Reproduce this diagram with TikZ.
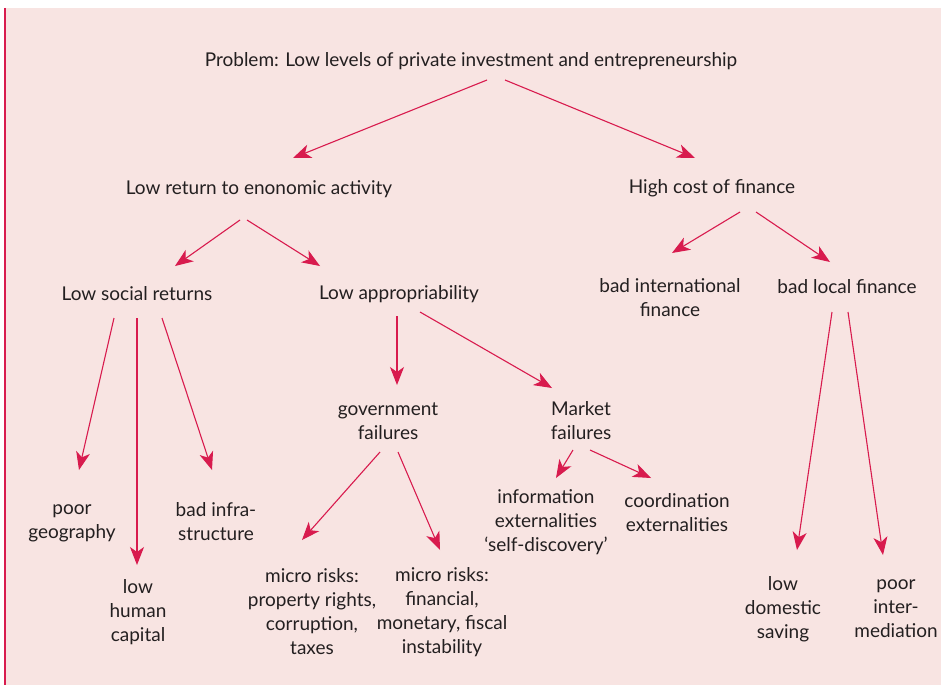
\documentclass[tikz,border=0pt]{standalone}
\usepackage{fontspec}
\setmainfont{Lato}
\usetikzlibrary{arrows.meta, calc}
\definecolor{bgpink}{HTML}{F8E4E2}
\definecolor{arrred}{HTML}{D81B4E}
\definecolor{txtgray}{HTML}{231F20}

\begin{document}
\begin{tikzpicture}[x=1pt, y=-1pt,
    lbl/.style={align=center, inner sep=0pt, text=txtgray, font=\fontsize{19}{24}\selectfont},
    arr/.style={-{Stealth[length=18pt, width=14pt, inset=5pt]}, color=arrred, line width=1.1pt}]
                % background and the rule on the left
                \useasboundingbox (0,0) rectangle (941,685);
                \fill[bgpink] (4,8) rectangle (941,685);
                \draw[arrred, line width=2.2pt] (5,8) -- (5,685);

                % top levels
                \node[lbl] (problem) at (471,61) {Problem: Low levels of private investment and entrepreneurship};
                \node[lbl] (lowret) at (259,189) {Low return to enonomic activity};
                \node[lbl] (highcost) at (712,188) {High cost of finance};

                % second row
                \node[lbl] (social) at (137,294) {Low social returns};
                \node[lbl] (approp) at (399,294) {Low appropriability};
                \node[lbl] (intl) at (670,298) {bad international\\finance};
                \node[lbl] (local) at (847,287) {bad local finance};

                % failures
                \node[lbl] (gov) at (388,421) {government\\failures};
                \node[lbl] (market) at (581,421) {Market\\failures};

                % bottom row
                \node[lbl] (geo) at (72,523) {poor\\geography};
                \node[lbl] (human) at (138,612) {low\\human\\capital};
                \node[lbl] (infra) at (216,522) {bad infra-\\structure};
                \node[lbl] (prop) at (312,612) {micro risks:\\property rights,\\corruption,\\taxes};
                \node[lbl] (fin) at (442,612) {micro risks:\\financial,\\monetary, fiscal\\instability};
                \node[lbl] (info) at (546,522) {information\\externalities\\‘self-discovery’};
                \node[lbl] (coord) at (677,513) {coordination\\externalities};
                \node[lbl] (saving) at (783,609) {low\\domestic\\saving};
                \node[lbl] (inter) at (896,609) {poor\\inter-\\mediation};

                % arrows
                \draw[arr] ($(problem)+(16,19)$) -- ($(lowret)+(34,-31)$);
                \draw[arr] ($(problem)+(34,19)$) -- ($(highcost)+(-17,-30)$);
                \draw[arr] ($(lowret)+(-19,31)$) -- ($(social)+(38,-28)$);
                \draw[arr] ($(lowret)+(-12,31)$) -- ($(approp)+(-79,-28)$);
                \draw[arr] ($(highcost)+(28,24)$) -- ($(intl)+(2,-45)$);
                \draw[arr] ($(highcost)+(44,24)$) -- ($(local)+(-17,-25)$);
                \draw[arr] ($(social)+(-23,24)$) -- ($(geo)+(7,-53)$);
                \draw[arr] ($(social)+(0,24)$) -- ($(human)+(-1,-47)$);
                \draw[arr] ($(social)+(25,24)$) -- ($(infra)+(-4,-52)$);
                \draw[arr] ($(approp)+(-2,22)$) -- ($(gov)+(9,-36)$);
                \draw[arr] ($(approp)+(21,18)$) -- ($(market)+(-29,-33)$);
                \draw[arr] ($(gov)+(-8,31)$) -- ($(prop)+(-10,-72)$);
                \draw[arr] ($(gov)+(10,31)$) -- ($(fin)+(-2,-62)$);
                \draw[arr] ($(market)+(-8,29)$) -- ($(info)+(10,-44)$);
                \draw[arr] ($(market)+(9,29)$) -- ($(coord)+(-26,-35)$);
                \draw[arr] ($(local)+(-15,25)$) -- ($(saving)+(14,-59)$);
                \draw[arr] ($(local)+(1,25)$) -- ($(inter)+(-13,-54)$);
            \end{tikzpicture}
\end{document}
